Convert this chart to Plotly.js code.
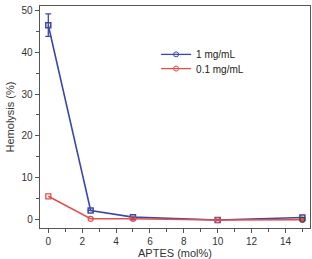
<!DOCTYPE html>
<html>
<head>
<meta charset="utf-8">
<script src="https://cdn.plot.ly/plotly-3.0.1.min.js"></script>
<style>
  html, body { margin: 0; padding: 0; background: #fff; }
  #chart { width: 312px; height: 259px; }
</style>
</head>
<body>
<div id="chart"></div>
<script>
// APTES content (mol%)
const aptes = [0, 2.5, 5, 10, 15];
// Hemolysis (%) at each nanoparticle concentration
const hemo1mg = [46.5, 2.1, 0.5, -0.2, 0.4];
const hemo1mgErr = [2.7, 0, 0, 0, 0];
const hemo01mg = [5.5, 0.1, 0.1, -0.2, -0.1];
const seriesNames = ['1 mg/mL', '0.1 mg/mL'];
const xTicks = [0, 2, 4, 6, 8, 10, 12, 14];
const yTicks = [0, 10, 20, 30, 40, 50];

const blue = '#3c48a8';
const red = '#e0504e';
const font = 'Liberation Sans, Arial, sans-serif';

const traces = [
  {
    x: aptes, y: hemo1mg, name: seriesNames[0], showlegend: false,
    type: 'scatter', mode: 'lines+markers',
    line: { color: blue, width: 1.6 },
    marker: { symbol: 'square-open', size: 5, color: blue, line: { width: 1.5 } },
    error_y: { type: 'data', array: hemo1mgErr, visible: true, color: blue, thickness: 1.3, width: 3 }
  },
  {
    x: aptes, y: hemo01mg, name: seriesNames[1], showlegend: false,
    type: 'scatter', mode: 'lines+markers',
    line: { color: red, width: 1.6 },
    marker: { symbol: ['square-open', 'circle-open', 'circle-open', 'circle-open', 'circle'], size: 5, color: red, line: { width: 1.3 } }
  },
  // legend keys: line with an open circle for each concentration
  {
    x: [null], y: [null], name: seriesNames[0], legend: 'legend',
    type: 'scatter', mode: 'lines+markers',
    line: { color: blue, width: 1.3 },
    marker: { symbol: 'circle-open', size: 5, color: blue, line: { width: 1 } }
  },
  {
    x: [null], y: [null], name: seriesNames[1], legend: 'legend2',
    type: 'scatter', mode: 'lines+markers',
    line: { color: red, width: 1.3 },
    marker: { symbol: 'circle-open', size: 5, color: red, line: { width: 1 } }
  }
];

const legendCommon = {
  xanchor: 'left', yanchor: 'middle',
  bgcolor: 'rgba(0,0,0,0)', borderwidth: 0,
  font: { family: font, size: 10, color: '#222' },
  itemwidth: 30
};

const axisCommon = {
  showgrid: false, zeroline: false,
  showline: true, linecolor: '#555', linewidth: 1.3, mirror: true,
  ticks: 'outside', ticklen: 4, tickcolor: '#555', tickwidth: 1,
  tickfont: { family: font, size: 10, color: '#333' }
};

const layout = {
  width: 312, height: 259,
  margin: { l: 40, r: 2, t: 6, b: 31 },
  paper_bgcolor: '#fff', plot_bgcolor: '#fff',
  showlegend: true,
  legend: Object.assign({}, legendCommon, { x: 0.43, y: 0.782 }),
  legend2: Object.assign({}, legendCommon, { x: 0.43, y: 0.718 }),
  xaxis: Object.assign({}, axisCommon, {
    range: [-0.49, 15.45],
    tickvals: xTicks,
    minor: { dtick: 1, tick0: 0, ticks: 'outside', ticklen: 2.5, tickcolor: '#555' },
    title: { text: 'APTES (mol%)', standoff: 0, font: { family: font, size: 11, color: '#333' } }
  }),
  yaxis: Object.assign({}, axisCommon, {
    range: [-2.1, 51.1],
    tickvals: yTicks,
    minor: { dtick: 5, tick0: 0, ticks: 'outside', ticklen: 2.5, tickcolor: '#555' },
    title: { text: 'Hemolysis (%)', standoff: 4, font: { family: font, size: 11, color: '#333' } }
  })
};

Plotly.newPlot('chart', traces, layout, { displayModeBar: false, staticPlot: true });
</script>
</body>
</html>
